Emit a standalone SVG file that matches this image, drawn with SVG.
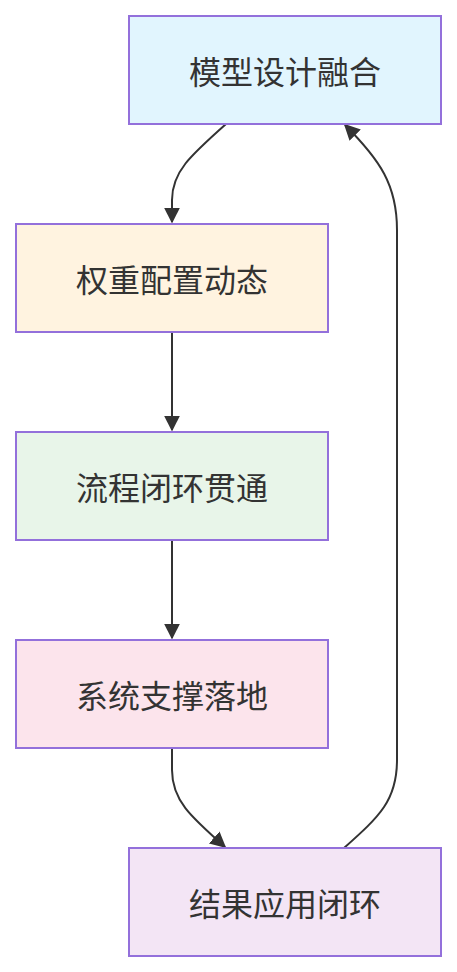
<svg xmlns="http://www.w3.org/2000/svg" width="457" height="972" viewBox="0 0 457 972">
<style>
.node rect{stroke:#9370db;stroke-width:2}
.node text{font-family:"Noto Sans CJK SC","Noto Sans",sans-serif;font-size:32px;fill:#333;text-anchor:middle;dominant-baseline:central}
.edge{fill:none;stroke:#333;stroke-width:2}
</style>
<defs>
<marker id="arr" viewBox="0 0 10 10" refX="9" refY="5" markerWidth="8" markerHeight="8" markerUnits="strokeWidth" orient="auto">
<path d="M0,0 L10,5 L0,10 z" fill="#333"/>
</marker>
</defs>
<rect width="457" height="972" fill="#fff"/>
<g id="edges">
<path class="edge" d="M226,124 C190,156 172,172 172,200 L172,222" marker-end="url(#arr)"/>
<path class="edge" d="M172,332 L172,430" marker-end="url(#arr)"/>
<path class="edge" d="M172,540 L172,638" marker-end="url(#arr)"/>
<path class="edge" d="M172,748 L172,770 C172,800 190,816 225,847" marker-end="url(#arr)"/>
<path class="edge" d="M344,848 C380,816 397,800 397,760 L397,230 C397,185 380,160 345,125" marker-end="url(#arr)"/>
</g>
<g id="n1" class="node"><rect x="129" y="16" width="312" height="108" fill="#e1f5fe"/><text x="285" y="70">模型设计融合</text></g>
<g id="n2" class="node"><rect x="16" y="224" width="312" height="108" fill="#fff3e0"/><text x="172" y="278">权重配置动态</text></g>
<g id="n3" class="node"><rect x="16" y="432" width="312" height="108" fill="#e8f5e9"/><text x="172" y="486">流程闭环贯通</text></g>
<g id="n4" class="node"><rect x="16" y="640" width="312" height="108" fill="#fce4ec"/><text x="172" y="694">系统支撑落地</text></g>
<g id="n5" class="node"><rect x="129" y="848" width="312" height="108" fill="#f3e5f5"/><text x="285" y="902">结果应用闭环</text></g>
</svg>
